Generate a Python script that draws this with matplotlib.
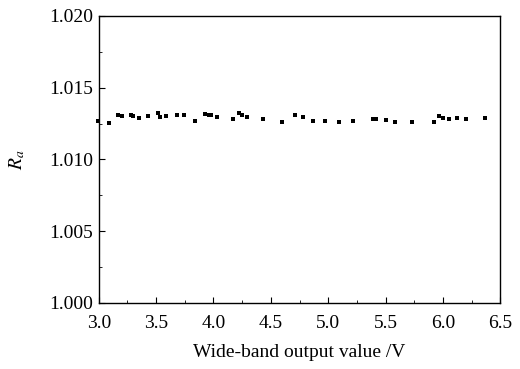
import numpy as np
import matplotlib
matplotlib.use("Agg")
import matplotlib.pyplot as plt
from matplotlib.ticker import MultipleLocator, FormatStrFormatter

# valores
volt = [2.995, 3.09, 3.17, 3.20, 3.28, 3.30, 3.35, 3.43, 3.52, 3.53, 3.59, 3.68,
        3.74, 3.84, 3.93, 3.96, 3.98, 4.03, 4.17, 4.22, 4.25, 4.29, 4.43, 4.60,
        4.71, 4.78, 4.87, 4.97, 5.09, 5.22, 5.39, 5.42, 5.50, 5.58, 5.73, 5.92,
        5.97, 6.00, 6.05, 6.12, 6.20, 6.37]
ra = [1.01270, 1.01256, 1.01312, 1.01300, 1.01308, 1.01300, 1.01285, 1.01300,
      1.01320, 1.01294, 1.01300, 1.01308, 1.01308, 1.01270, 1.01317, 1.01310,
      1.01310, 1.01294, 1.01282, 1.01320, 1.01310, 1.01294, 1.01282, 1.01261,
      1.01312, 1.01294, 1.01270, 1.01270, 1.01261, 1.01270, 1.01282, 1.01282,
      1.01277, 1.01261, 1.01261, 1.01261, 1.01300, 1.01290, 1.01280, 1.01290,
      1.01280, 1.01290]

plt.rcParams['font.family'] = ['Liberation Serif', 'DejaVu Serif']
plt.rcParams['mathtext.fontset'] = 'stix'

fig = plt.figure(figsize=(5.2, 3.69), dpi=100)
ax = fig.add_axes([0.19, 0.179, 0.772, 0.778])
ax.plot(volt, ra, "s", color="black", markersize=2.8, markeredgewidth=0,
        clip_on=False, zorder=3)

ax.set_xlim(3.0, 6.5)
ax.set_ylim(1.000, 1.020)
ax.xaxis.set_major_locator(MultipleLocator(0.5))
ax.xaxis.set_minor_locator(MultipleLocator(0.25))
ax.yaxis.set_major_locator(MultipleLocator(0.005))
ax.yaxis.set_minor_locator(MultipleLocator(0.0025))
ax.xaxis.set_major_formatter(FormatStrFormatter("%.1f"))
ax.yaxis.set_major_formatter(FormatStrFormatter("%.3f"))
ax.tick_params(which="both", direction="in", labelsize=14, top=False, right=False)
ax.tick_params(which="major", length=4)
ax.tick_params(which="minor", length=2)
ax.tick_params(axis="x", pad=9)
ax.tick_params(axis="y", pad=4)
ax.set_xlabel("Wide-band output value /V", fontsize=14, labelpad=8)
ax.set_ylabel("$R_a$", fontsize=14, labelpad=16)
for s in ax.spines.values():
    s.set_linewidth(1.0)

fig.savefig("out.png", dpi=100)
